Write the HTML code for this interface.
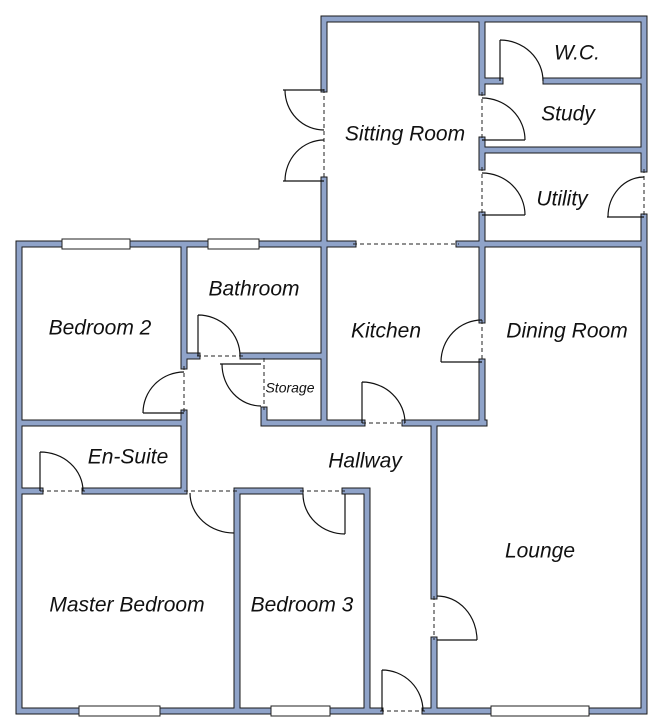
<!DOCTYPE html>
<html><head><meta charset="utf-8"><style>
body{margin:0;background:#fff}
svg{display:block}
text{font-family:"Liberation Sans",sans-serif;font-style:italic;font-size:21px;fill:#111;text-anchor:middle;dominant-baseline:middle}
</style></head><body>
<svg width="661" height="728" viewBox="0 0 661 728" xmlns="http://www.w3.org/2000/svg">
<defs>
<path id="w" d="M324 19H644 M644 19V169 M644 217V711 M324 19V89 M324 180V423
M482 19V92 M482 140V167 M482 215V320 M482 362V423
M482 81H500 M546 81H644 M482 150H644
M19 244H353 M459 244H644
M19 244V711 M184 244V366 M184 413V491
M184 356H197 M243 356H324
M264 410V423 M264 423H362 M405 423H484
M19 423H184 M19 491H40 M85 491H184
M237 491V711 M237 491H300 M345 491H367 M367 491V711
M434 423V596 M434 640V711
M19 711H380 M425 711H644"/>
</defs>
<use href="#w" stroke="#1a1a1a" stroke-width="7" stroke-linecap="square" fill="none"/>
<use href="#w" stroke="#8fa3c9" stroke-width="5" stroke-linecap="square" fill="none"/>
<g stroke="#222" stroke-width="1" stroke-dasharray="4,3" fill="none">
<path d="M324 89V180 M482 92V140 M482 167V215 M482 320V362 M644 169V217 M353 244H459 M197 356H243 M184 366V413 M264 358V410 M362 423H405 M40 491H85 M184 491H237 M300 491H345 M434 596V640 M380 711H425"/>
</g>
<g fill="#fff" stroke="#222" stroke-width="1">
<rect x="62" y="239" width="68" height="10"/>
<rect x="208" y="239" width="51" height="10"/>
<rect x="79" y="706" width="81" height="10"/>
<rect x="271" y="706" width="59" height="10"/>
<rect x="491" y="706" width="98" height="10"/>
</g>
<g stroke="#111" stroke-width="1.2" fill="none">
<path d="M283 90H324 M285 90A39 40 0 0 0 324 130"/>
<path d="M283 181H324 M285 181A39 41 0 0 1 324 140"/>
<path d="M500 40V81 M500 40A43 41 0 0 1 543 81"/>
<path d="M482 140H525 M482 98A43 42 0 0 1 525 140"/>
<path d="M482 215H525 M482 173A43 42 0 0 1 525 215"/>
<path d="M607 217H644 M608 217A36 40 0 0 1 644 177"/>
<path d="M198 315V356 M198 315A42 41 0 0 1 240 356"/>
<path d="M143 413H184 M143 413A41 41 0 0 1 184 372"/>
<path d="M220 364H261 M222 364A39 42 0 0 0 261 406"/>
<path d="M362 382V423 M362 382A43 41 0 0 1 405 423"/>
<path d="M441 362H482 M441 362A41 42 0 0 1 482 320"/>
<path d="M40 452V491 M40 452A43 39 0 0 1 83 491"/>
<path d="M190 493A44 40 0 0 0 234 533"/>
<path d="M345 494V534 M303 494A42 40 0 0 0 345 534"/>
<path d="M437 640H477 M437 596A40 44 0 0 1 477 640"/>
<path d="M382 670V711 M382 670A41 41 0 0 1 423 711"/>
</g>
<text x="577" y="54">W.C.</text>
<text x="568" y="115">Study</text>
<text x="405" y="135">Sitting Room</text>
<text x="562" y="200">Utility</text>
<text x="254" y="290">Bathroom</text>
<text x="100" y="329">Bedroom 2</text>
<text x="386" y="332">Kitchen</text>
<text x="567" y="332">Dining Room</text>
<text x="290" y="389" style="font-size:14px">Storage</text>
<text x="128" y="458">En-Suite</text>
<text x="365" y="462">Hallway</text>
<text x="540" y="552">Lounge</text>
<text x="127" y="606">Master Bedroom</text>
<text x="302" y="606">Bedroom 3</text>
</svg>
</body></html>
